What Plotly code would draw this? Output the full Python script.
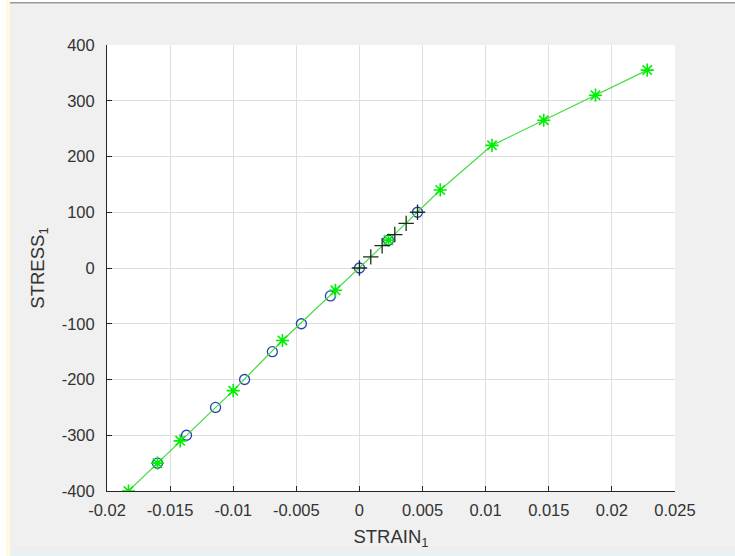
import plotly.graph_objects as go

# Stress–strain data (response curve, reference linear points, small-step points)
strain_curve = [-0.0183, -0.0160, -0.0142, -0.0100, -0.0061, -0.0019,
                0.0023, 0.0064, 0.0105, 0.0146, 0.0187, 0.0228]
stress_curve = [-400, -350, -310, -220, -130, -40, 50, 140, 220, 265, 310, 355]

strain_linear = [-0.0160, -0.0137, -0.0114, -0.0091, -0.0069, -0.0046,
                 -0.0023, 0.0, 0.0023, 0.0046]
stress_linear = [-350, -300, -250, -200, -150, -100, -50, 0, 50, 100]

strain_step = [0.0, 0.0009, 0.0018, 0.0028, 0.0037, 0.0046]
stress_step = [0, 20, 40, 60, 80, 100]

x_ticks = [-0.02, -0.015, -0.01, -0.005, 0, 0.005, 0.01, 0.015, 0.02, 0.025]
x_labels = ["-0.02", "-0.015", "-0.01", "-0.005", "0", "0.005", "0.01", "0.015", "0.02", "0.025"]
y_ticks = [-400, -300, -200, -100, 0, 100, 200, 300, 400]
y_labels = ["-400", "-300", "-200", "-100", "0", "100", "200", "300", "400"]

W, H = 735, 556
ML, MR, MT, MB = 107, 60, 45, 65
PW, PH = W - ML - MR, H - MT - MB


def px(x):
    return (x - ML) / PW


def py(y):
    return (H - MB - y) / PH


FONT = "Liberation Sans, Arial, Helvetica, sans-serif"
INK = "#262626"

fig = go.Figure()

fig.add_trace(go.Scatter(
    x=strain_linear, y=stress_linear, mode="markers",
    marker=dict(symbol="circle-open", size=10, color="#2a3fb8", line=dict(width=1.3)),
    showlegend=False, hoverinfo="skip"))

fig.add_trace(go.Scatter(
    x=strain_curve, y=stress_curve, mode="lines+markers",
    line=dict(color="#44dd44", width=1.2),
    marker=dict(symbol="asterisk-open", size=11, color="#00ee00", line=dict(width=1.6, color="#00ee00")),
    showlegend=False, hoverinfo="skip"))

fig.add_trace(go.Scatter(
    x=strain_step, y=stress_step, mode="markers",
    marker=dict(symbol="cross-thin-open", size=11, color="#1a2a1a", line=dict(width=1.3, color="#1a2a1a")),
    showlegend=False, hoverinfo="skip"))

axis_common = dict(
    showline=True, linecolor=INK, linewidth=1,
    ticks="inside", ticklen=5, tickcolor=INK, tickwidth=1,
    showgrid=True, gridcolor="#dedede", gridwidth=1,
    zeroline=False, mirror=False,
    tickfont=dict(family=FONT, size=16.5, color="#333333"),
)

fig.update_layout(
    width=W, height=H,
    margin=dict(l=ML, r=MR, t=MT, b=MB),
    paper_bgcolor="#f0f0f0", plot_bgcolor="#ffffff",
    font=dict(family=FONT, color=INK),
    xaxis=dict(range=[-0.02, 0.025], tickvals=x_ticks, ticktext=x_labels,
               ticklabelstandoff=4,
               title=dict(text="STRAIN<sub>1</sub>", font=dict(family=FONT, size=18.5, color="#333333"),
                          standoff=12),
               **axis_common),
    yaxis=dict(range=[-400, 400], tickvals=y_ticks, ticktext=y_labels,
               ticklabelstandoff=8,
               title=dict(text="STRESS<sub>1</sub>", font=dict(family=FONT, size=18.5, color="#333333"),
                          standoff=12),
               **axis_common),
    shapes=[
        # window frame strips
        dict(type="rect", xref="paper", yref="paper", x0=px(0), x1=px(6), y0=py(H), y1=py(0),
             fillcolor="#ffffff", line=dict(width=0), layer="below"),
        dict(type="rect", xref="paper", yref="paper", x0=px(6), x1=px(10), y0=py(H), y1=py(0),
             fillcolor="#fffbe0", line=dict(width=0), layer="below"),
        dict(type="rect", xref="paper", yref="paper", x0=px(10), x1=px(W), y0=py(0), y1=py(2),
             fillcolor="#ffffff", line=dict(width=0), layer="below"),
        dict(type="rect", xref="paper", yref="paper", x0=px(10), x1=px(W), y0=py(2), y1=py(3.5),
             fillcolor="#9a9a9a", line=dict(width=0), layer="below"),
        dict(type="rect", xref="paper", yref="paper", x0=px(10), x1=px(W), y0=py(547), y1=py(550),
             fillcolor="#f3ecea", line=dict(width=0), layer="below"),
        dict(type="rect", xref="paper", yref="paper", x0=px(10), x1=px(W), y0=py(550), y1=py(H),
             fillcolor="#e6f3f2", line=dict(width=0), layer="below"),
    ],
)

fig.write_html("out.html")
